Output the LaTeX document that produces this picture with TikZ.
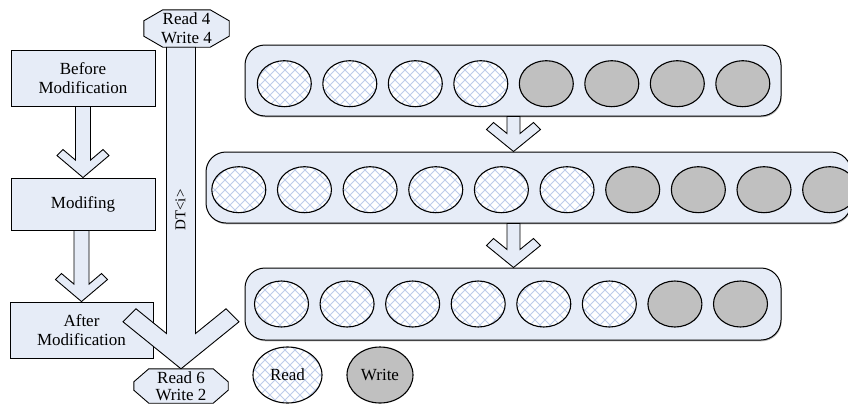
\documentclass[tikz,border=0pt]{standalone}
\usepackage{fontspec}
\setmainfont{Liberation Serif}
\usetikzlibrary{shapes.geometric,patterns.meta,calc,shadows}

\definecolor{paleblue}{RGB}{230,236,247}
\definecolor{hatchblue}{RGB}{190,204,234}
\definecolor{writegray}{RGB}{192,192,192}

\pgfdeclarelayer{back}
\pgfsetlayers{back,main}

% light diagonal cross-hatching for the read cells
\tikzdeclarepattern{
  name=xhatch,
  type=uncolored,
  bounding box={(-5pt,-5pt) and (5pt,5pt)},
  tile size={(10pt,10pt)},
  code={\draw[line width=0.8pt] (-7pt,-7pt) -- (7pt,7pt) (-7pt,7pt) -- (7pt,-7pt);}
}

\tikzset{
  every node/.style={font=\fontsize{17}{19}\selectfont},
  stagebox/.style={draw, line width=0.9pt, fill=paleblue, inner sep=0pt, align=center},
  rowbox/.style={draw, line width=1pt, fill=paleblue, rounded corners=20pt, inner sep=0pt,
    drop shadow={shadow xshift=0.7pt, shadow yshift=-1.3pt, opacity=0.55}},
  cell/.style={ellipse, draw, line width=1.1pt, inner sep=0pt, minimum width=54pt, minimum height=46pt},
  readcell/.style={cell, preaction={fill=white}, pattern=xhatch, pattern color=hatchblue},
  writecell/.style={cell, fill=writegray},
  octbox/.style={draw, line width=0.9pt, fill=paleblue},
  blockarrow/.style={draw, line width=0.9pt, fill=paleblue, line join=miter},
}

% block arrow with a chevron head, from #1 (shaft top) to #2 (tip);
% #3 half shaft width, #4 half head width, #5 head drop, #6 barb cap
\newcommand\chevarrow[6]{%
  \path[blockarrow] let \p1=(#1), \p2=(#2) in
    ({\x2-#3pt},\y1)
    -- ({\x2-#3pt},{\y2+(#5+#6-(#4-#6-#3)*#5/#4)*1pt})
    -- ({\x2-#4pt+#6pt},{\y2+#5pt+#6pt})
    -- ({\x2-#4pt},{\y2+#5pt})
    -- (\x2,\y2)
    -- ({\x2+#4pt},{\y2+#5pt})
    -- ({\x2+#4pt-#6pt},{\y2+#5pt+#6pt})
    -- ({\x2+#3pt},{\y2+(#5+#6-(#4-#6-#3)*#5/#4)*1pt})
    -- ({\x2+#3pt},\y1) -- cycle;}

% octagon drawn around a named node: #1 node, #2 corner cut in x, #3 corner cut in y
\newcommand\octaround[3]{%
  \begin{pgfonlayer}{back}
  \path[octbox] ([xshift=#2]#1.north west) -- ([xshift=-#2]#1.north east)
    -- ([yshift=-#3]#1.north east) -- ([yshift=#3]#1.south east)
    -- ([xshift=-#2]#1.south east) -- ([xshift=#2]#1.south west)
    -- ([yshift=#3]#1.south west) -- ([yshift=-#3]#1.north west) -- cycle;
  \end{pgfonlayer}}

\begin{document}
\begin{tikzpicture}[x=1pt,y=-1pt]
\useasboundingbox (0,0) rectangle (848,405);

% stage boxes on the left
\node[stagebox, minimum width=144pt, minimum height=56pt] (before) at (83,78) {Before\\Modification};
\node[stagebox, minimum width=144pt, minimum height=52pt] (modif) at (83,204) {Modifing};
\node[stagebox, minimum width=143pt, minimum height=56pt] (after) at (81.5,330) {After\\Modification};

\chevarrow{before.south}{modif.north}{7.5}{26}{22}{6}
\chevarrow{modif.south}{after.north}{7.5}{26}{22}{6}

% read/write counts at both ends of the data transfer
\node[inner sep=0pt, minimum width=85pt, minimum height=37pt, align=center] (oct1) at (186.5,28.5) {Read 4\\Write 4};
\node[inner sep=0pt, minimum width=94pt, minimum height=34pt, align=center,
      font=\fontsize{17}{17.5}\selectfont] (oct2) at (181,386) {Read 6\\Write 2};
\octaround{oct1}{19pt}{11pt}
\octaround{oct2}{15pt}{13pt}

\chevarrow{oct1.south}{oct2.north}{14.5}{58}{47}{13}
\node[rotate=90, font=\fontsize{15}{17}\selectfont] (dt) at (180.5,210) {DT<i>};

% rows of cells
\node[rowbox, minimum width=536pt, minimum height=71pt] (row1) at (513,80.5) {};
\node[rowbox, minimum width=645pt, minimum height=71pt] (row2) at (528.5,187.5) {};
\node[rowbox, minimum width=536pt, minimum height=72pt] (row3) at (513,304) {};

\foreach \i in {1,...,4} \node[readcell] (a\i) at ({284.3+65.5*(\i-1)},83.7) {};
\foreach \i in {5,...,8} \node[writecell] (a\i) at ({284.3+65.5*(\i-1)},83.7) {};
\foreach \i in {1,...,6} \node[readcell] (b\i) at ({238.8+65.65*(\i-1)},189.7) {};
\foreach \i in {7,...,10} \node[writecell] (b\i) at ({238.8+65.65*(\i-1)},189.7) {};
\foreach \i in {1,...,6} \node[readcell] (c\i) at ({281.5+65.57*(\i-1)},304) {};
\foreach \i in {7,8} \node[writecell] (c\i) at ({281.5+65.57*(\i-1)},304) {};

\coordinate (k1) at (513.5,0);
\chevarrow{row1.south -| k1}{row2.north -| k1}{6.5}{27}{22}{7}
\chevarrow{row2.south -| k1}{row3.north -| k1}{6.5}{27}{22}{7}

% legend
\node[readcell, minimum width=69pt, minimum height=56pt] (legread) at (287.5,375) {Read};
\node[writecell, minimum width=66pt, minimum height=56pt] (legwrite) at (380,375) {Write};
\end{tikzpicture}
\end{document}
